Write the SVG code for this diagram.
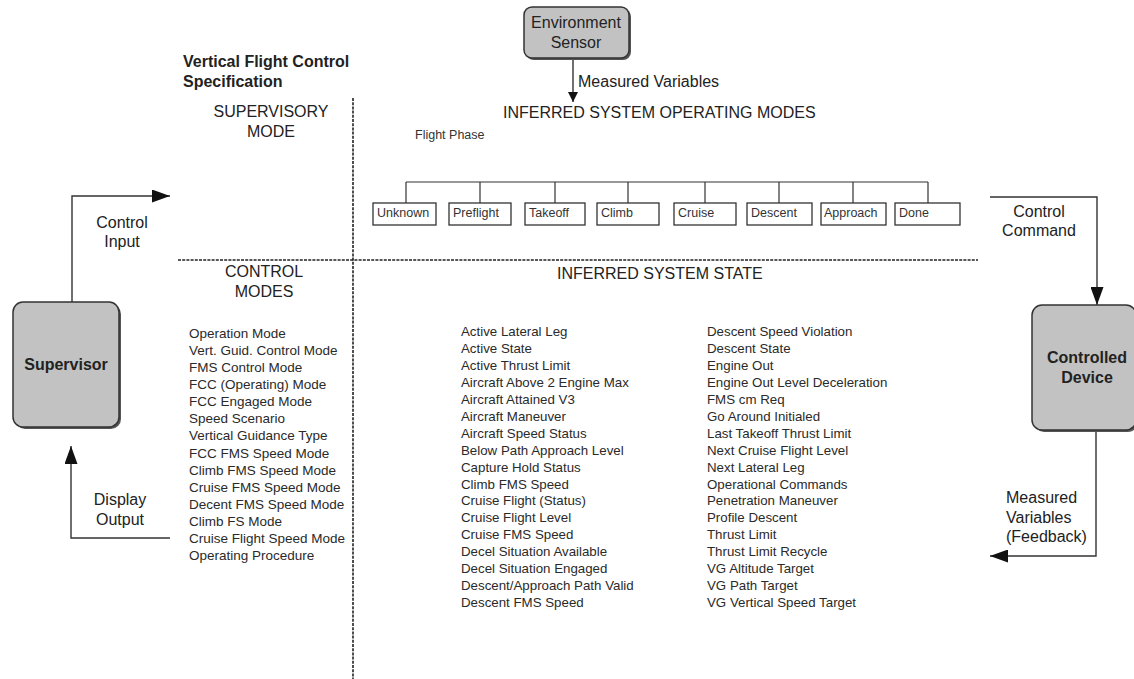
<svg xmlns="http://www.w3.org/2000/svg" width="1134" height="679" viewBox="0 0 1134 679">
<defs>
<style>
text{font-family:"Liberation Sans",Arial,sans-serif;fill:#222}
.h{font-size:16px}
.b{font-size:16px;font-weight:bold}
.l{font-size:13.5px;fill:#2a2a2a}
.m{font-size:13.3px;fill:#2a2a2a}
.s{font-size:12.5px;fill:#333}
.c{text-anchor:middle}
.gbox{fill:#c2c2c2;stroke:#333;stroke-width:1.5}
.shadow{fill:#555}
.pbox{fill:#fff;stroke:#333;stroke-width:1.3}
.conn{fill:none;stroke:#333;stroke-width:1.4}
.tree{fill:none;stroke:#333;stroke-width:1.2}
.dot{fill:none;stroke:#222;stroke-width:1.6;stroke-dasharray:3 1.2}
</style>
<marker id="big" markerUnits="userSpaceOnUse" markerWidth="19" markerHeight="13" refX="18" refY="6.5" orient="auto">
<path d="M0,0 L18,6.5 L0,13 Z" fill="#111"/>
</marker>
<marker id="small" markerUnits="userSpaceOnUse" markerWidth="11" markerHeight="11" refX="10" refY="5" orient="auto">
<path d="M0,0 L10,5 L0,10 Z" fill="#111"/>
</marker>
</defs>
<rect width="1134" height="679" fill="#fff"/>

<g id="dividers">
<line class="dot" x1="353" y1="98" x2="353" y2="679"/>
<line class="dot" x1="178" y1="260" x2="978" y2="260"/>
</g>

<g id="titles">
<text class="b" x="183" y="67">Vertical Flight Control</text>
<text class="b" x="183" y="87">Specification</text>
<text class="h c" x="271" y="117">SUPERVISORY</text>
<text class="h c" x="271" y="137">MODE</text>
<text class="h" x="503" y="118">INFERRED SYSTEM OPERATING MODES</text>
<text class="h c" x="264" y="277">CONTROL</text>
<text class="h c" x="264" y="297">MODES</text>
<text class="h" x="557" y="279">INFERRED SYSTEM STATE</text>
</g>

<g id="connectors">
<line class="conn" x1="573" y1="58" x2="573" y2="102" marker-end="url(#small)"/>
<polyline class="conn" points="72,302 72,196 170,196" marker-end="url(#big)"/>
<polyline class="conn" points="170,538 71,538 71,446" marker-end="url(#big)"/>
<polyline class="conn" points="990,197 1097,197 1097,305" marker-end="url(#big)"/>
<polyline class="conn" points="1096,430 1096,556 990,556" marker-end="url(#big)"/>
<text class="h" x="578" y="87">Measured Variables</text>
<text class="h c" x="122" y="228">Control</text>
<text class="h c" x="122" y="247">Input</text>
<text class="h c" x="120" y="505">Display</text>
<text class="h c" x="120" y="525">Output</text>
<text class="h c" x="1039" y="217">Control</text>
<text class="h c" x="1039" y="236">Command</text>
<text class="h" x="1006" y="503">Measured</text>
<text class="h" x="1006" y="523">Variables</text>
<text class="h" x="1006" y="542">(Feedback)</text>
</g>

<g id="env-sensor">
<rect class="shadow" x="526" y="9" width="105" height="51" rx="8"/>
<rect class="gbox" x="524" y="7" width="105" height="51" rx="8"/>
<text class="h c" x="576" y="28">Environment</text>
<text class="h c" x="576" y="48">Sensor</text>
</g>

<g id="supervisor">
<rect class="shadow" x="15" y="304" width="106" height="125" rx="10"/>
<rect class="gbox" x="13" y="302" width="106" height="125" rx="10"/>
<text class="b c" x="66" y="370">Supervisor</text>
</g>

<g id="controlled-device">
<rect class="shadow" x="1034" y="307" width="104" height="125" rx="10"/>
<rect class="gbox" x="1032" y="305" width="104" height="125" rx="10"/>
<text class="b c" x="1087" y="363">Controlled</text>
<text class="b c" x="1087" y="383">Device</text>
</g>

<g id="flight-phase">
<text class="s" x="415" y="139">Flight Phase</text>
<path class="tree" d="M406,182 H928 M406,182 V203 M480,182 V203 M555,182 V203 M628,182 V203 M705,182 V203 M779,182 V203 M853,182 V203 M928,182 V203"/>
<g id="phase-unknown"><rect class="pbox" x="373" y="203" width="63" height="22"/><text class="s" x="377" y="217">Unknown</text></g>
<g id="phase-preflight"><rect class="pbox" x="449" y="203" width="62" height="22"/><text class="s" x="453" y="217">Preflight</text></g>
<g id="phase-takeoff"><rect class="pbox" x="525" y="203" width="60" height="22"/><text class="s" x="529" y="217">Takeoff</text></g>
<g id="phase-climb"><rect class="pbox" x="597" y="203" width="62" height="22"/><text class="s" x="601" y="217">Climb</text></g>
<g id="phase-cruise"><rect class="pbox" x="674" y="203" width="62" height="22"/><text class="s" x="678" y="217">Cruise</text></g>
<g id="phase-descent"><rect class="pbox" x="747" y="203" width="65" height="22"/><text class="s" x="751" y="217">Descent</text></g>
<g id="phase-approach"><rect class="pbox" x="821" y="203" width="65" height="22"/><text class="s" x="824" y="217">Approach</text></g>
<g id="phase-done"><rect class="pbox" x="895" y="203" width="65" height="22"/><text class="s" x="899" y="217">Done</text></g>
</g>

<g id="control-modes">
<text class="l" x="189" y="338">Operation Mode</text>
<text class="l" x="189" y="355.1">Vert. Guid. Control Mode</text>
<text class="l" x="189" y="372.1">FMS Control Mode</text>
<text class="l" x="189" y="389.2">FCC (Operating) Mode</text>
<text class="l" x="189" y="406.3">FCC Engaged Mode</text>
<text class="l" x="189" y="423.4">Speed Scenario</text>
<text class="l" x="189" y="440.4">Vertical Guidance Type</text>
<text class="l" x="189" y="457.5">FCC FMS Speed Mode</text>
<text class="l" x="189" y="474.6">Climb FMS Speed Mode</text>
<text class="l" x="189" y="491.6">Cruise FMS Speed Mode</text>
<text class="l" x="189" y="508.7">Decent FMS Speed Mode</text>
<text class="l" x="189" y="525.8">Climb FS Mode</text>
<text class="l" x="189" y="542.9">Cruise Flight Speed Mode</text>
<text class="l" x="189" y="560">Operating Procedure</text>
</g>

<g id="system-state-1">
<text class="m" x="461" y="336">Active Lateral Leg</text>
<text class="m" x="461" y="352.9">Active State</text>
<text class="m" x="461" y="369.9">Active Thrust Limit</text>
<text class="m" x="461" y="386.8">Aircraft Above 2 Engine Max</text>
<text class="m" x="461" y="403.8">Aircraft Attained V3</text>
<text class="m" x="461" y="420.7">Aircraft Maneuver</text>
<text class="m" x="461" y="437.6">Aircraft Speed Status</text>
<text class="m" x="461" y="454.6">Below Path Approach Level</text>
<text class="m" x="461" y="471.5">Capture Hold Status</text>
<text class="m" x="461" y="488.5">Climb FMS Speed</text>
<text class="m" x="461" y="505.4">Cruise Flight (Status)</text>
<text class="m" x="461" y="522.3">Cruise Flight Level</text>
<text class="m" x="461" y="539.3">Cruise FMS Speed</text>
<text class="m" x="461" y="556.2">Decel Situation Available</text>
<text class="m" x="461" y="573.2">Decel Situation Engaged</text>
<text class="m" x="461" y="590.1">Descent/Approach Path Valid</text>
<text class="m" x="461" y="607">Descent FMS Speed</text>
</g>

<g id="system-state-2">
<text class="m" x="707" y="336">Descent Speed Violation</text>
<text class="m" x="707" y="352.9">Descent State</text>
<text class="m" x="707" y="369.9">Engine Out</text>
<text class="m" x="707" y="386.8">Engine Out Level Deceleration</text>
<text class="m" x="707" y="403.8">FMS cm Req</text>
<text class="m" x="707" y="420.7">Go Around Initialed</text>
<text class="m" x="707" y="437.6">Last Takeoff Thrust Limit</text>
<text class="m" x="707" y="454.6">Next Cruise Flight Level</text>
<text class="m" x="707" y="471.5">Next Lateral Leg</text>
<text class="m" x="707" y="488.5">Operational Commands</text>
<text class="m" x="707" y="505.4">Penetration Maneuver</text>
<text class="m" x="707" y="522.3">Profile Descent</text>
<text class="m" x="707" y="539.3">Thrust Limit</text>
<text class="m" x="707" y="556.2">Thrust Limit Recycle</text>
<text class="m" x="707" y="573.2">VG Altitude Target</text>
<text class="m" x="707" y="590.1">VG Path Target</text>
<text class="m" x="707" y="607">VG Vertical Speed Target</text>
</g>
</svg>
